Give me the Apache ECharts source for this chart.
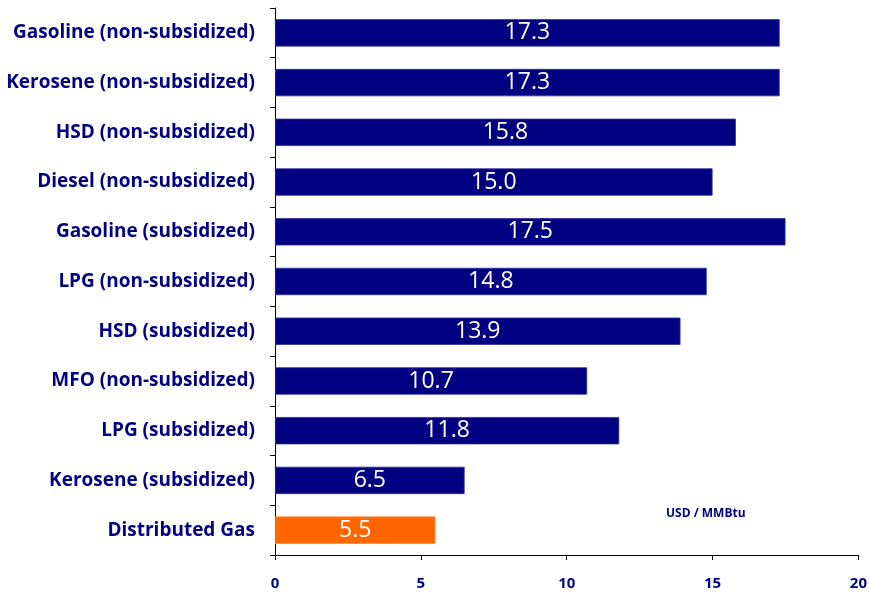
<!DOCTYPE html>
<html><head><meta charset="utf-8">
<script src="https://cdn.jsdelivr.net/npm/echarts@6/dist/echarts.min.js"></script>
<style>html,body{margin:0;padding:0;background:#fff}#c{width:870px;height:594px}</style>
</head><body><div id="c"></div>
<script>
const categories = ["Gasoline (non-subsidized)","Kerosene (non-subsidized)","HSD (non-subsidized)","Diesel (non-subsidized)","Gasoline (subsidized)","LPG (non-subsidized)","HSD (subsidized)","MFO (non-subsidized)","LPG (subsidized)","Kerosene (subsidized)","Distributed Gas"];
const values = [17.3,17.3,15.8,15.0,17.5,14.8,13.9,10.7,11.8,6.5,5.5];
const barColors = ["#000080","#000080","#000080","#000080","#000080","#000080","#000080","#000080","#000080","#000080","#FF6600"];
const unitText = "USD / MMBtu";

const chart = echarts.init(document.getElementById('c'));
const navy = '#000080';
chart.setOption({
  animation:false,
  grid:{left:275,right:11,top:8,bottom:39,containLabel:false},
  xAxis:{type:'value',min:0,max:20,interval:5,
    axisLine:{show:true,lineStyle:{color:'#000',width:1}},
    axisTick:{show:true,length:5,lineStyle:{color:'#000'}},
    splitLine:{show:false},
    axisLabel:{color:navy,fontWeight:'bold',fontSize:15,fontFamily:'Open Sans',margin:21}},
  yAxis:{type:'category',data:categories,inverse:true,
    axisLine:{show:true,lineStyle:{color:'#000',width:1}},
    axisTick:{show:true,length:5,lineStyle:{color:'#000'}},
    axisLabel:{color:navy,fontWeight:'bold',fontSize:19,fontFamily:'Open Sans',margin:20}},
  series:[{type:'bar',barCategoryGap:'45%',
    data:values.map((v,i)=>({value:v,itemStyle:{color:barColors[i],borderColor:i===10?'#ff8a40':'#3030a0',borderWidth:0.8}})),
    label:{show:true,position:'inside',color:'#fff',fontSize:23,fontFamily:'Open Sans',
      formatter:p=>p.value.toFixed(1)}}],
  graphic:[{type:'text',left:666,top:508,style:{text:unitText,fill:navy,font:'bold 12px "Open Sans"'}}]
});
</script></body></html>
